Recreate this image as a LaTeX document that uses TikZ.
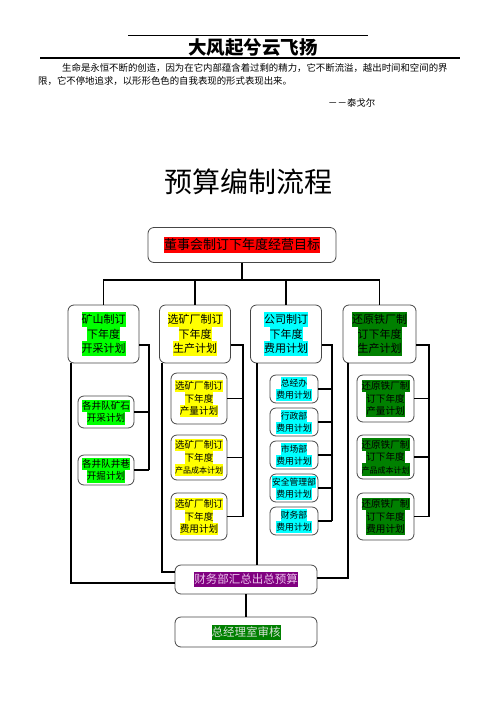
\documentclass[tikz,border=0pt]{standalone}
\usepackage{fontspec}
\setmainfont{Noto Sans CJK SC}
\definecolor{HlRed}{RGB}{255,0,0}
\definecolor{HlGreen}{RGB}{0,255,0}
\definecolor{HlYellow}{RGB}{255,255,0}
\definecolor{HlCyan}{RGB}{0,255,255}
\definecolor{HlDark}{RGB}{0,128,0}
\definecolor{HlPurple}{RGB}{128,0,128}
\definecolor{FinText}{RGB}{235,195,235}
\definecolor{GmText}{RGB}{215,225,215}
\definecolor{BoxGray}{RGB}{70,70,70}
% one highlighted line, the band as high as the line
\newcommand{\hlbox}[2]{{\setlength{\fboxsep}{0pt}\colorbox{#1}{\rule[-.22\baselineskip]{0pt}{\baselineskip}#2}}}

\begin{document}
\begin{tikzpicture}[x=1pt,y=-1pt]
				\tikzstyle{box}=[draw=BoxGray, line width=0.8pt, rounded corners=6pt, inner sep=0pt, align=center];
				\tikzstyle{lvtwo}=[box, minimum width=71, minimum height=58, font=\fontsize{11}{14.5}\selectfont];
				\tikzstyle{sub}=[box, font=\fontsize{9.6}{12.5}\selectfont];
				\tikzstyle{dept}=[box, minimum width=48, minimum height=28, font=\fontsize{8.8}{12}\selectfont];
				\tikzstyle{link}=[line width=1.8pt];
				\useasboundingbox (0,0) rectangle (496,702);
				% page head
				\draw[line width=0.6pt] (128,35) -- (368,35);
				\node (head) at (253,47.5) {\fontsize{18.5}{21}\selectfont\bfseries 大风起兮云飞扬};
				\draw[line width=1.2pt] (40,58) -- (460,58);
				\node [anchor=west, inner sep=0pt] (quote1) at (62,67.5) {\fontsize{9.4}{12}\selectfont 生命是永恒不断的创造，因为在它内部蕴含着过剩的精力，它不断流溢，越出时间和空间的界};
				\node [anchor=west, inner sep=0pt] (quote2) at (38,81) {\fontsize{9.4}{12}\selectfont 限，它不停地追求，以形形色色的自我表现的形式表现出来。};
				\node [anchor=west, inner sep=0pt] (author) at (328,103) {\fontsize{9.4}{12}\selectfont －－泰戈尔};
				\node (title) at (248,182) {\fontsize{28}{32}\selectfont 预算编制流程};
				% board
				\node [box, minimum width=188, minimum height=35, font=\fontsize{13}{16}\selectfont] (top) at (242,245) {\hlbox{HlRed}{董事会制订下年度经营目标}};
				\node [lvtwo] (b1) at (103.5,334) {\hlbox{HlGreen}{矿山制订}\\\hlbox{HlGreen}{下年度}\\\hlbox{HlGreen}{开采计划}};
				\node [lvtwo] (b2) at (195,334) {\hlbox{HlYellow}{选矿厂制订}\\\hlbox{HlYellow}{下年度}\\\hlbox{HlYellow}{生产计划}};
				\node [lvtwo] (b3) at (286,334) {\hlbox{HlCyan}{公司制订}\\\hlbox{HlCyan}{下年度}\\\hlbox{HlCyan}{费用计划}};
				\node [lvtwo, minimum width=73] (b4) at (379.5,334) {\hlbox{HlDark}{还原铁厂制}\\\hlbox{HlDark}{订下年度}\\\hlbox{HlDark}{生产计划}};
				\coordinate (bus) at (242,280);
				\draw[link] (top) -- (bus);
				\draw[link] (b1) |- (bus) -| (b4);
				\draw[link] (b2) -- (b2 |- bus);
				\draw[link] (b3) -- (b3 |- bus);
				% mines
				\node [sub, minimum width=56, minimum height=32] (c11) at (106,412) {\hlbox{HlGreen}{各井队矿石}\\\hlbox{HlGreen}{开采计划}};
				\node [sub, minimum width=56, minimum height=30] (c12) at (106,470) {\hlbox{HlGreen}{各井队井巷}\\\hlbox{HlGreen}{开掘计划}};
				\coordinate (r1) at (149,345);
				\draw[link] (b1.east |- r1) -- (r1) -- (r1 |- c12);
				\draw[link] (c11) -- (c11 -| r1);
				\draw[link] (c12) -- (c12 -| r1);
				% dressing plant
				\node [sub, minimum width=56, minimum height=51] (c21) at (199,398.5) {\hlbox{HlYellow}{选矿厂制订}\\\hlbox{HlYellow}{下年度}\\\hlbox{HlYellow}{产量计划}};
				\node [sub, minimum width=56, minimum height=45] (c22) at (199,457.5) {\hlbox{HlYellow}{选矿厂制订}\\\hlbox{HlYellow}{下年度}\\\hlbox{HlYellow}{\fontsize{8}{12.5}\selectfont 产品成本计划}};
				\node [sub, minimum width=56, minimum height=47] (c23) at (199,516.5) {\hlbox{HlYellow}{选矿厂制订}\\\hlbox{HlYellow}{下年度}\\\hlbox{HlYellow}{费用计划}};
				\coordinate (r2) at (243,345);
				\draw[link] (b2.east |- r2) -- (r2) -- (r2 |- c23);
				\draw[link] (c21) -- (c21 -| r2);
				\draw[link] (c22) -- (c22 -| r2);
				\draw[link] (c23) -- (c23 -| r2);
				% company
				\node [dept] (c31) at (294,389) {\hlbox{HlCyan}{总经办}\\\hlbox{HlCyan}{费用计划}};
				\node [dept] (c32) at (294,422) {\hlbox{HlCyan}{行政部}\\\hlbox{HlCyan}{费用计划}};
				\node [dept] (c33) at (294,455) {\hlbox{HlCyan}{市场部}\\\hlbox{HlCyan}{费用计划}};
				\node [dept] (c34) at (294,488) {\hlbox{HlCyan}{安全管理部}\\\hlbox{HlCyan}{费用计划}};
				\node [dept] (c35) at (294,521) {\hlbox{HlCyan}{财务部}\\\hlbox{HlCyan}{费用计划}};
				\coordinate (r3) at (332,345);
				\draw[link] (b3.east |- r3) -- (r3) -- (r3 |- c35);
				\draw[link] (c31) -- (c31 -| r3);
				\draw[link] (c32) -- (c32 -| r3);
				\draw[link] (c33) -- (c33 -| r3);
				\draw[link] (c34) -- (c34 -| r3);
				\draw[link] (c35) -- (c35 -| r3);
				% reduced iron plant
				\node [sub, minimum width=57, minimum height=47] (c41) at (385.5,398.5) {\hlbox{HlDark}{还原铁厂制}\\\hlbox{HlDark}{订下年度}\\\hlbox{HlDark}{产量计划}};
				\node [sub, minimum width=57, minimum height=44] (c42) at (385.5,457) {\hlbox{HlDark}{还原铁厂制}\\\hlbox{HlDark}{订下年度}\\\hlbox{HlDark}{\fontsize{8}{12.5}\selectfont 产品成本计划}};
				\node [sub, minimum width=57, minimum height=47] (c43) at (385.5,516.5) {\hlbox{HlDark}{还原铁厂制}\\\hlbox{HlDark}{订下年度}\\\hlbox{HlDark}{费用计划}};
				\coordinate (r4) at (429,345);
				\draw[link] (b4.east |- r4) -- (r4) -- (r4 |- c43);
				\draw[link] (c41) -- (c41 -| r4);
				\draw[link] (c42) -- (c42 -| r4);
				\draw[link] (c43) -- (c43 -| r4);
				% budget and review
				\node [box, minimum width=142, minimum height=29, font=\fontsize{11.5}{15}\selectfont] (fin) at (246,579.5) {\hlbox{HlPurple}{\color{FinText}财务部汇总出总预算}};
				\node [box, minimum width=142, minimum height=30, font=\fontsize{11.5}{15}\selectfont] (gm) at (246,632) {\hlbox{HlDark}{\color{GmText}总经理室审核}};
				\coordinate (l1) at (71,583);
				\coordinate (l2) at (162,572);
				\coordinate (l3) at (257,565);
				\coordinate (l4) at (348,578);
				\draw[link] (b1.south -| l1) -- (l1) -- (fin.west |- l1);
				\draw[link] (b2.south -| l2) -- (l2) -- (fin.west |- l2);
				\draw[link] (b3.south -| l3) -- (l3);
				\draw[link] (fin.east |- l4) -- (l4) -- (b4.south -| l4);
				\draw[link] (fin) -- (gm);
\end{tikzpicture}
\end{document}
